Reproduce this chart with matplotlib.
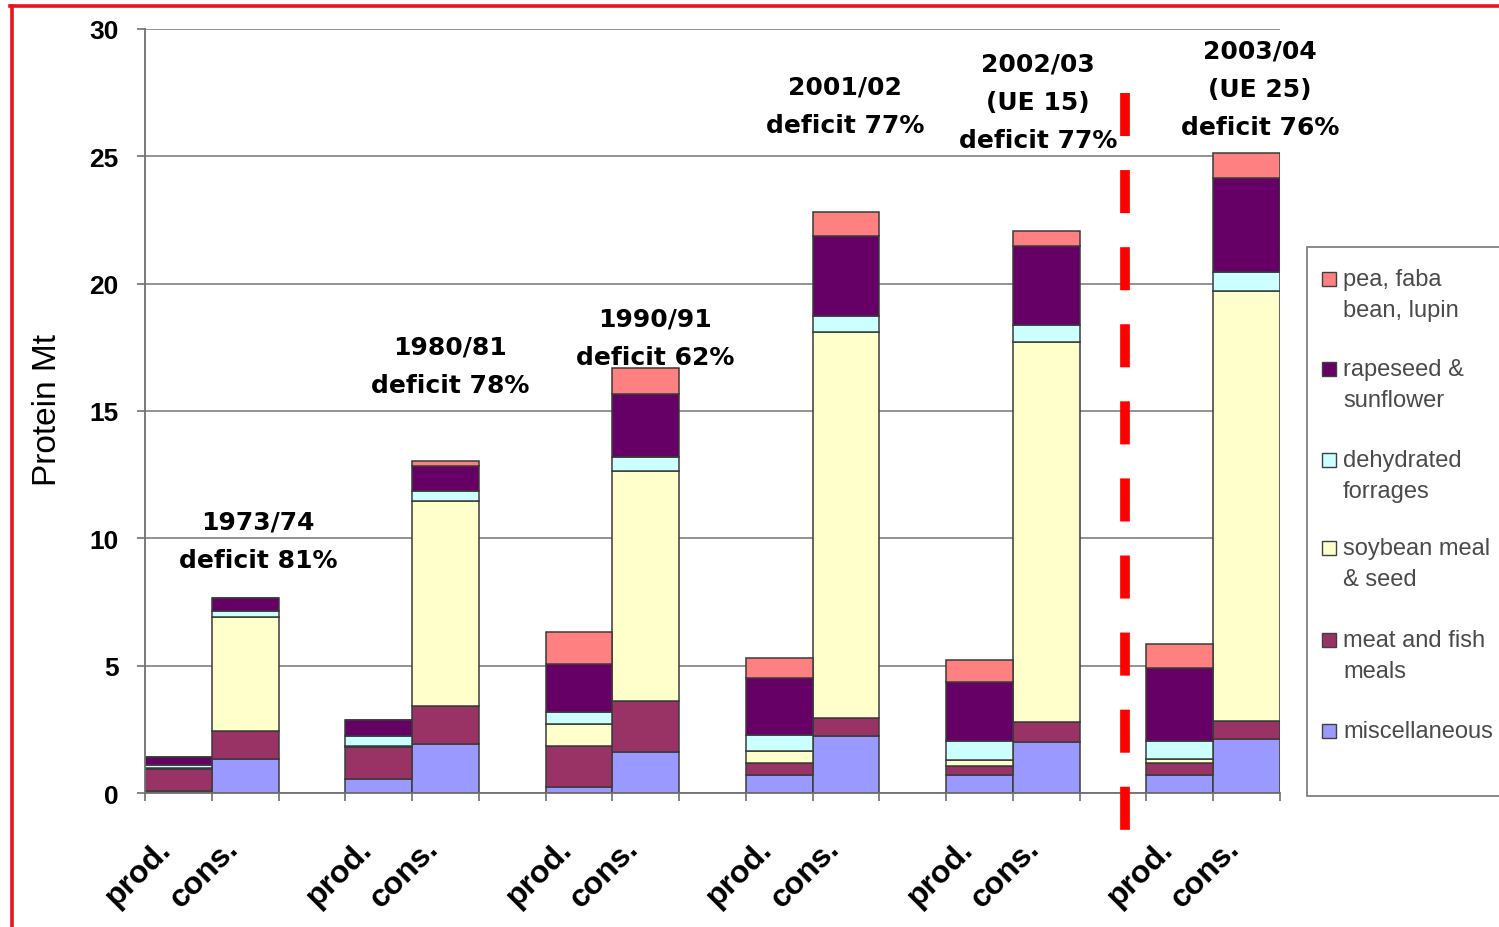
import numpy as np
import matplotlib
matplotlib.use("Agg")
import matplotlib.pyplot as plt
from matplotlib.patches import Rectangle
from matplotlib.lines import Line2D
from matplotlib.transforms import ScaledTranslation

plt.rcParams["font.family"] = ["Liberation Sans", "DejaVu Sans"]

# ---- data (protein, Mt) ----
bar_labels = ["prod.", "cons."] * 6
series_names = ["miscellaneous", "meat and fish\nmeals", "soybean meal\n& seed",
                "dehydrated\nforrages", "rapeseed &\nsunflower", "pea, faba\nbean, lupin"]
misc    = [0.08, 1.34, 0.55, 1.93, 0.22, 1.60, 0.72, 2.24, 0.69, 2.02, 0.71, 2.13]
meat    = [0.85, 1.11, 1.25, 1.50, 1.64, 2.03, 0.46, 0.69, 0.38, 0.76, 0.45, 0.71]
soybean = [0.05, 4.45, 0.05, 8.05, 0.85, 9.03, 0.45, 15.19, 0.23, 14.93, 0.17, 16.89]
forages = [0.12, 0.26, 0.38, 0.39, 0.49, 0.53, 0.66, 0.63, 0.76, 0.66, 0.72, 0.74]
rape    = [0.32, 0.50, 0.62, 0.98, 1.87, 2.46, 2.21, 3.13, 2.29, 3.11, 2.85, 3.69]
pea     = [0.00, 0.00, 0.00, 0.20, 1.27, 1.05, 0.80, 0.94, 0.89, 0.58, 0.96, 0.98]

period_notes = ["1973/74\ndeficit 81%", "1980/81\ndeficit 78%", "1990/91\ndeficit 62%",
                "2001/02\ndeficit 77%", "2002/03\n(UE 15)\ndeficit 77%",
                "2003/04\n(UE 25)\ndeficit 76%"]
y_ticks = [0, 5, 10, 15, 20, 25, 30]

# ---- style ----
colors = ["#9999FF", "#993366", "#FFFFCC", "#CCFFFF", "#660066", "#FF8080"]
note_xy = [(1.19, 10.65), (4.07, 17.52), (7.14, 18.62), (9.99, 27.74),
           (12.88, 28.64), (16.20, 29.15)]
divider_x = 14.18

W, H = 1499, 928
fig = plt.figure(figsize=(W / 100, H / 100), dpi=100)
ax = fig.add_axes([145 / W, 1 - 794 / H, (1280 - 145) / W, (794 - 30) / H])

# positions: prod/cons pairs separated by one empty slot
pos = []
for g in range(6):
    pos += [3 * g, 3 * g + 1]
pos = np.array(pos)

layers = [misc, meat, soybean, forages, rape, pea]
bottom = np.zeros(len(pos))
for vals, c in zip(layers, colors):
    vals = np.array(vals)
    ax.bar(pos, vals, width=1.0, bottom=bottom, color=c, edgecolor="#3a3a3a",
           linewidth=1.1, zorder=2)
    bottom += vals

ax.set_xlim(-0.5, 16.5)
ax.set_ylim(0, 30)
ax.set_yticks(y_ticks)
ax.yaxis.grid(True, color="#808080", linewidth=1.2)
ax.set_axisbelow(True)
for s in ["top", "right"]:
    ax.spines[s].set_visible(False)
for s in ["left", "bottom"]:
    ax.spines[s].set_color("#707070")
    ax.spines[s].set_linewidth(1.3)
ax.spines["bottom"].set_zorder(3)

ax.tick_params(axis="y", direction="out", length=6, width=1.2, color="#707070",
               pad=13, labelsize=19)
for lab in ax.get_yticklabels():
    lab.set_fontweight("bold")

ax.set_xticks(pos)
ax.set_xticklabels(bar_labels, rotation=45, ha="right", va="top",
                   rotation_mode="anchor", fontsize=23, fontweight="bold")
ax.tick_params(axis="x", which="major", length=0, pad=29)
ax.set_xticks(np.arange(-0.5, 17, 1.0), minor=True)
ax.tick_params(axis="x", which="minor", length=6, width=1.2, color="#707070",
               direction="out")
shift = ScaledTranslation(-22 / 100, 0, fig.dpi_scale_trans)
for lab in ax.get_xticklabels():
    lab.set_transform(lab.get_transform() + shift)

# period annotations
for note, (x, y) in zip(period_notes, note_xy):
    for i, line in enumerate(note.split("\n")):
        ax.annotate(line, xy=(x, y), xytext=(0, -27.5 * i), textcoords="offset points",
                    ha="center", va="center", fontsize=18, fontweight="bold",
                    family="DejaVu Sans", zorder=5, annotation_clip=False)

# EU-15 / EU-25 divider
div = Line2D([divider_x, divider_x], [27.47, -1.49], color="#FF0000", linewidth=7,
             solid_capstyle="butt", dash_capstyle="butt", clip_on=False, zorder=6)
div.set_dashes((31 / 7, 24.5 / 7))
ax.add_line(div)

fig.text(48 / W, 1 - 410 / H, "Protein Mt", rotation=90, ha="center", va="center",
         fontsize=24)

# legend box
fig.patches.append(Rectangle((1307 / W, 1 - 797 / H), 0.2, (797 - 248) / H,
                             transform=fig.transFigure, facecolor="white",
                             edgecolor="#808080", linewidth=1.3, zorder=1))
legend_rows = [280, 370, 461, 549, 641, 732]
legend_order = list(range(5, -1, -1))
for row_y, idx in zip(legend_rows, legend_order):
    fig.patches.append(Rectangle((1322 / W, 1 - (row_y + 7) / H), 14 / W, 14 / H,
                                 transform=fig.transFigure, facecolor=colors[idx],
                                 edgecolor="#404040", linewidth=1.0, zorder=2))
    for i, line in enumerate(series_names[idx].split("\n")):
        fig.text(1343 / W, 1 - (row_y + 31 * i) / H, line, ha="left", va="center",
                 fontsize=17, color="#4a4a4a", zorder=3)

# outer frame (top and left edges)
fig.add_artist(Line2D([10 / W, 1.0], [1 - 6.5 / H, 1 - 6.5 / H], color="#E8141B",
                      linewidth=2.6, transform=fig.transFigure))
fig.add_artist(Line2D([11.5 / W, 11.5 / W], [0, 1 - 6.5 / H], color="#E8141B",
                      linewidth=2.6, transform=fig.transFigure))

fig.savefig("out.png", dpi=100)
